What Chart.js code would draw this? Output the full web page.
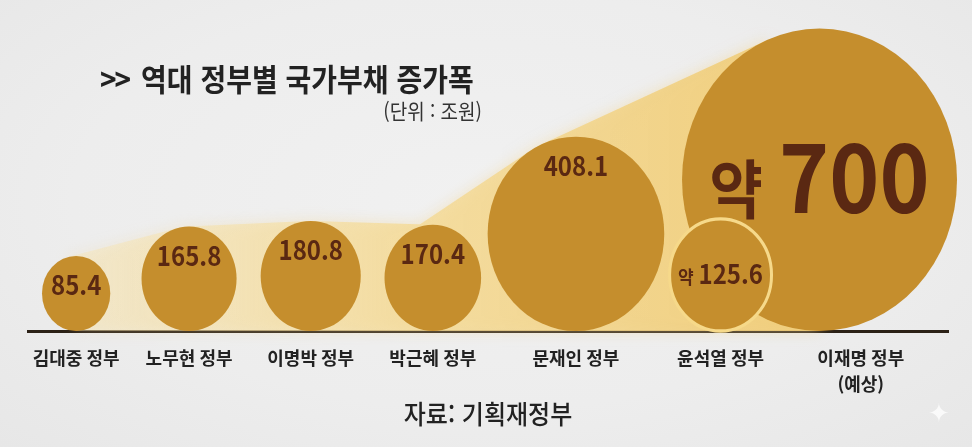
<!DOCTYPE html>
<html lang="ko">
<head>
<meta charset="utf-8">
<title>역대 정부별 국가부채 증가폭</title>
<script src="https://cdn.jsdelivr.net/npm/chart.js@4.4.1/dist/chart.umd.min.js"></script>
<style>
  html, body { margin: 0; padding: 0; }
  body {
    width: 972px; height: 447px; overflow: hidden; position: relative;
    background: radial-gradient(ellipse at 50% 45%, #f1f1f1 0%, #ededed 60%, #e7e7e7 100%);
    font-family: "Noto Sans CJK KR", "Noto Sans", sans-serif;
  }
  #wrap { position: absolute; left: 0; top: 0; width: 972px; height: 447px; }
  .txt { position: absolute; white-space: nowrap; color: #222; line-height: 1; transform: scaleY(1.1); }
  #title { left: 100px; top: 64px; font-size: 28px; font-weight: 700; }
  #title span { letter-spacing: -2px; margin-right: 12px; }
  #unit { right: 490px; top: 100px; font-size: 19px; color: #333; }
  #source { left: 2px; width: 972px; text-align: center; top: 401px; font-size: 24px; font-weight: 500; }
  #spark { left: 928px; top: 398px; font-size: 26px; color: rgba(255,255,255,0.75); transform: none; }
</style>
</head>
<body>
<div id="wrap"><canvas id="bubble-chart"></canvas></div>
<div class="txt" id="title"><span>&gt;&gt;</span>역대 정부별 국가부채 증가폭</div>
<div class="txt" id="unit">(단위 : 조원)</div>
<div class="txt" id="source">자료: 기획재정부</div>
<div class="txt" id="spark">✦</div>
<script>
// 정부별 국가부채 증가폭 (조원)
const governments = ['김대중 정부', '노무현 정부', '이명박 정부', '박근혜 정부', '문재인 정부', '윤석열 정부', '이재명 정부'];
const debtIncrease = [85.4, 165.8, 180.8, 170.4, 408.1, 125.6, 700];
const approximate = [false, false, false, false, false, true, true];   // '약' 표시
const forecast = [false, false, false, false, false, false, true];      // (예상)

const tickLabels = governments.map((g, i) => forecast[i] ? [g, '(예상)'] : g);

const W = 920;      // 차트영역 폭 (px 단위 스케일)
const H = 331;      // 차트영역 높이
const S = 1.1;      // 원 세로 늘림
const FONT = '"Noto Sans CJK KR", "Noto Sans", sans-serif';

const mctx = document.createElement('canvas').getContext('2d');

function fontsFor(baseR) {
  if (baseR > 100) {
    const n = Math.round(baseR * 0.62);
    return { num: 'bold ' + n + 'px ' + FONT, pre: 'bold ' + Math.round(n * 0.68) + 'px ' + FONT, size: n };
  }
  return { num: 'bold 24px ' + FONT, pre: 'bold 17px ' + FONT, size: 24 };
}

const baseRadius = debtIncrease.map(v => 19.6 + 0.1684 * v);
const valueFonts = baseRadius.map(fontsFor);

// 원 크기: 값에 비례 + 라벨이 들어갈 만큼
const radius = debtIncrease.map((v, i) => {
  const f = valueFonts[i];
  mctx.font = f.num;
  let w = mctx.measureText(String(v)).width;
  if (approximate[i]) { mctx.font = f.pre; w += mctx.measureText('약 ').width; }
  return Math.max(baseRadius[i], w / 2 + 9);
});

// 가로 배치
const centerX = [];
const tickX = [];
radius.forEach((r, i) => {
  let c;
  if (forecast[i]) c = W - r + 9;
  else if (i === 0) c = 14 + r;
  else c = centerX[i - 1] + 68 + 0.55 * (radius[i - 1] + r);
  centerX.push(c);
  tickX.push(forecast[i] ? c + 0.3 * r : c);
});

// 더 큰 원과 겹치는 원은 테두리
const ring = radius.map((r, i) => radius.some((r2, j) =>
  r2 > r && Math.hypot(centerX[j] - centerX[i], r2 - r) < r + r2));

const order = radius.map((r, i) => i).sort((a, b) => radius[b] - radius[a]);

function bubblePositions(chart) {
  const meta = chart.getDatasetMeta(0);
  const pos = [];
  meta.data.forEach((el, k) => {
    const i = order[k];
    pos[i] = { x: el.x, y: el.y, r: radius[i] };
  });
  return pos;
}

function upperNormal(a, b) {
  const dx = b.x - a.x, dy = b.y - a.y;
  const L = Math.hypot(dx, dy);
  const th = Math.atan2(dy, dx);
  const d = Math.acos(Math.max(-1, Math.min(1, (a.r - b.r) / L)));
  let phi = th - d;
  if (Math.sin(phi) > 0) phi = th + d;
  return { x: Math.cos(phi), y: Math.sin(phi) };
}

function drawGlow(chart) {
  const { ctx, chartArea } = chart;
  const pos = bubblePositions(chart);
  const chain = pos.map((p, i) => i).filter(i => !ring[i]).sort((a, b) => pos[a].x - pos[b].x).map(i => pos[i]);
  const first = chain[0], last = chain[chain.length - 1];
  const bottom = chartArea.bottom;

  ctx.save();
  const g = ctx.createLinearGradient(first.x, 0, last.x, 0);
  g.addColorStop(0, 'rgba(246,228,178,0.4)');
  g.addColorStop(0.45, 'rgba(244,218,150,0.8)');
  g.addColorStop(1, 'rgba(239,203,118,0.95)');
  ctx.fillStyle = g;
  ctx.shadowColor = 'rgba(242,214,150,0.6)';
  ctx.shadowBlur = 14;
  ctx.beginPath();
  ctx.moveTo(first.x, bottom);
  ctx.lineTo(first.x, first.y);
  for (let k = 0; k < chain.length - 1; k++) {
    const a = chain[k], b = chain[k + 1];
    const n = upperNormal(a, b);
    ctx.lineTo(a.x + a.r * n.x, a.y + a.r * n.y);
    ctx.lineTo(b.x + b.r * n.x, b.y + b.r * n.y);
  }
  ctx.lineTo(last.x, last.y);
  ctx.lineTo(last.x, bottom);
  ctx.closePath();
  ctx.fill();
  ctx.restore();
}

function drawValues(chart) {
  const ctx = chart.ctx;
  const pos = bubblePositions(chart);
  ctx.save();
  ctx.fillStyle = '#5a2812';
  ctx.textBaseline = 'alphabetic';
  ctx.textAlign = 'left';
  pos.forEach((p, i) => {
    const f = valueFonts[i];
    const num = String(debtIncrease[i]);
    const cy = approximate[i] ? p.y : p.y - p.r + 30 / S;
    const baseY = cy + f.size * 0.36;
    ctx.font = f.num;
    const wn = ctx.measureText(num).width;
    let wp = 0, wsp = 0;
    if (approximate[i]) {
      ctx.font = f.pre;
      wp = ctx.measureText('약').width;
      wsp = ctx.measureText(' ').width;
    }
    let x = p.x - (wp + wsp + wn) / 2;
    if (approximate[i]) {
      ctx.font = f.pre;
      ctx.fillText('약', x, baseY);
      x += wp + wsp;
    }
    ctx.font = f.num;
    ctx.fillText(num, x, baseY);
  });
  ctx.restore();
}

const stretchPlugin = {
  id: 'stretchBubbles',
  beforeDatasetsDraw(chart) {
    const { ctx, chartArea } = chart;
    ctx.save();
    ctx.translate(0, chartArea.bottom);
    ctx.scale(1, S);
    ctx.translate(0, -chartArea.bottom);
    drawGlow(chart);
  },
  afterDatasetsDraw(chart) {
    drawValues(chart);
    chart.ctx.restore();
  }
};

document.addEventListener('DOMContentLoaded', function () {
  const bubbleChart = document.getElementById('bubble-chart');

  const debt = {
    label: '국가부채 증가폭',
    data: order.map(i => ({ x: centerX[i], y: radius[i], r: radius[i], i: i })),
    backgroundColor: '#c58e2d',
    borderColor: ctx => ring[ctx.raw.i] ? '#f6d98a' : 'rgba(0,0,0,0)',
    borderWidth: ctx => ring[ctx.raw.i] ? 3 : 0,
    hoverRadius: 0,
    clip: false
  };

  new Chart(bubbleChart, {
    type: 'bubble',
    data: { datasets: [debt] },
    plugins: [stretchPlugin],
    options: {
      responsive: true,
      maintainAspectRatio: false,
      animation: false,
      events: [],
      layout: { autoPadding: false, padding: { left: 28, right: 24, top: 0, bottom: 0 } },
      plugins: {
        legend: { display: false },
        tooltip: { enabled: false }
      },
      scales: {
        x: {
          type: 'linear',
          min: 0,
          max: W,
          grid: { display: false, drawTicks: false },
          border: { display: true, color: '#2b2116', width: 3 },
          afterBuildTicks: scale => { scale.ticks = tickX.map(v => ({ value: v })); },
          afterFit: scale => { scale.height = 447 - H; },
          ticks: {
            autoSkip: false,
            maxRotation: 0,
            minRotation: 0,
            padding: 14,
            color: '#222',
            font: { family: FONT, size: 18, weight: '600', lineHeight: 1.45 },
            callback: (value, index) => tickLabels[index]
          }
        },
        y: {
          display: false,
          min: 0,
          max: H
        }
      }
    }
  });
});
</script>
</body>
</html>
